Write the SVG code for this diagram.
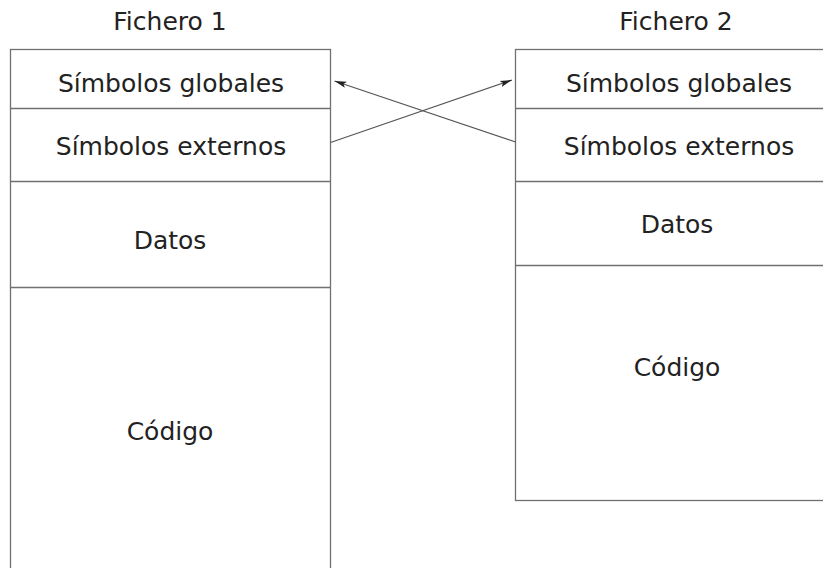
<svg xmlns="http://www.w3.org/2000/svg" width="823" height="568" viewBox="0 0 823 568">
<defs>
<style>
.box{fill:#fff;stroke:#707070;stroke-width:1.3}
.div{stroke:#707070;stroke-width:1.3;fill:none}
.t{font-family:"DejaVu Sans",Verdana,sans-serif;font-size:25px;fill:#222;text-anchor:middle}
.conn{stroke:#555;stroke-width:1.2;fill:none;marker-end:url(#ah)}
</style>
<marker id="ah" viewBox="0 0 12 8" refX="12" refY="4" markerWidth="12" markerHeight="8" markerUnits="userSpaceOnUse" orient="auto">
<path d="M0,0.8 L12,4 L0,7.2 L2.5,4 Z" fill="#222"/>
</marker>
</defs>
<rect width="823" height="568" fill="#fff"/>
<g id="fichero1">
<text class="t" x="170" y="30">Fichero 1</text>
<rect class="box" x="10.5" y="49.5" width="320" height="540"/>
<line class="div" x1="10.5" y1="108.5" x2="330.5" y2="108.5"/>
<line class="div" x1="10.5" y1="181.5" x2="330.5" y2="181.5"/>
<line class="div" x1="10.5" y1="287.5" x2="330.5" y2="287.5"/>
<text class="t" x="171" y="92">Símbolos globales</text>
<text class="t" x="171" y="155">Símbolos externos</text>
<text class="t" x="170" y="249">Datos</text>
<text class="t" x="170" y="440">Código</text>
</g>
<g id="fichero2">
<text class="t" x="676" y="30">Fichero 2</text>
<rect class="box" x="515.5" y="49.5" width="320" height="451"/>
<line class="div" x1="515.5" y1="108.5" x2="835.5" y2="108.5"/>
<line class="div" x1="515.5" y1="181.5" x2="835.5" y2="181.5"/>
<line class="div" x1="515.5" y1="265.5" x2="835.5" y2="265.5"/>
<text class="t" x="679" y="92">Símbolos globales</text>
<text class="t" x="679" y="155">Símbolos externos</text>
<text class="t" x="677" y="233">Datos</text>
<text class="t" x="677" y="376">Código</text>
</g>
<g id="connectors">
<line class="conn" x1="330.5" y1="142.5" x2="512" y2="80"/>
<line class="conn" x1="515.5" y1="142" x2="334.5" y2="81"/>
</g>
</svg>
